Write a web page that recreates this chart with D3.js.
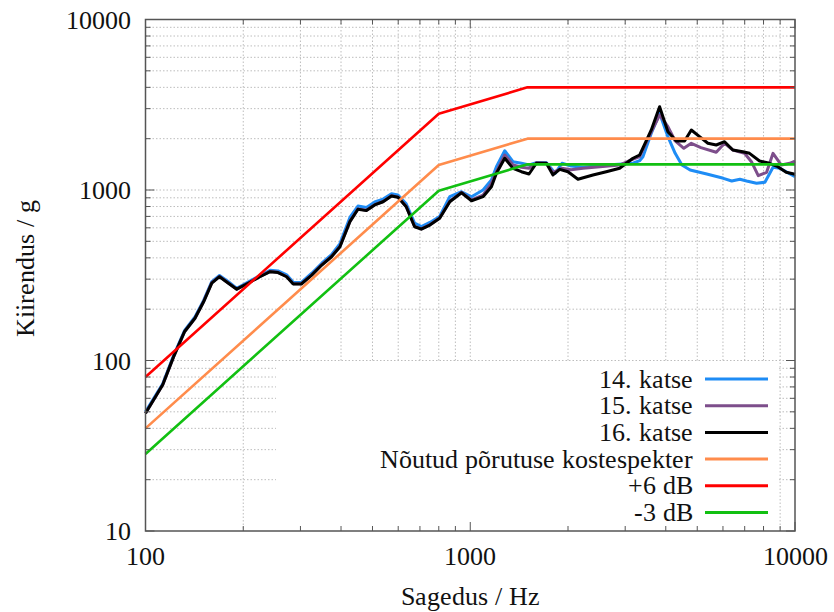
<!DOCTYPE html>
<html>
<head>
<meta charset="utf-8">
<script src="https://cdn.jsdelivr.net/npm/d3@7"></script>
<style>
  @font-face {
    font-family: "ChartSerif";
    src: local("Liberation Serif"), local("LiberationSerif"), local("LiberationSerif-Regular"), local("Times New Roman");
  }
</style>
</head>
<body style="margin:0">
<svg width="834" height="612"></svg>
<script>
// measured spectra: [frequency Hz, acceleration g]
const test14 = [
  [100, 50], [113, 73], [122, 107], [132, 150], [142, 180], [151, 225], [160, 290], [169, 315],
  [180, 290], [191, 265], [207, 288], [225, 315], [242, 338], [256, 335], [272, 318], [285, 288],
  [302, 287], [325, 325], [349, 372], [374, 418], [397, 485], [426, 690], [451, 805], [479, 790],
  [508, 850], [539, 885], [572, 950], [599, 935], [635, 830], [674, 640], [707, 610], [751, 645],
  [805, 700], [865, 913], [940, 977], [1009, 913], [1095, 1000], [1162, 1145], [1204, 1370],
  [1277, 1700], [1354, 1466], [1437, 1435], [1517, 1401], [1598, 1446], [1716, 1446], [1826, 1253],
  [1916, 1435], [2044, 1383], [2224, 1359], [2624, 1401], [2950, 1421], [3170, 1435], [3323, 1486],
  [3402, 1568], [3610, 2151], [3829, 2818], [4061, 2054], [4276, 1641], [4485, 1401], [4754, 1310],
  [5348, 1241], [6018, 1171], [6384, 1129], [6766, 1156], [7093, 1129], [7613, 1095], [8078, 1110],
  [8558, 1359], [8983, 1341], [10000, 1197]
];
const test15 = [
  [100, 49], [113, 72], [122, 105], [132, 148], [142, 177], [151, 222], [160, 286], [169, 311],
  [180, 285], [191, 262], [207, 285], [225, 311], [242, 333], [256, 329], [272, 311], [285, 282],
  [302, 282], [325, 318], [349, 365], [374, 408], [397, 468], [426, 655], [451, 775], [479, 760],
  [508, 820], [539, 856], [572, 925], [599, 910], [635, 802], [674, 612], [707, 592], [751, 626],
  [805, 685], [865, 860], [940, 968], [1009, 874], [1095, 934], [1162, 1095], [1204, 1280],
  [1277, 1604], [1354, 1401], [1437, 1359], [1517, 1341], [1598, 1446], [1716, 1435], [1798, 1264],
  [1910, 1341], [2044, 1315], [2224, 1341], [2884, 1401], [3130, 1500], [3323, 1568], [3610, 2190],
  [3829, 2754], [4061, 2351], [4276, 1939], [4547, 1756], [4794, 1879], [5132, 1771], [5721, 1664],
  [6069, 1879], [6437, 1716], [6993, 1641], [7343, 1466], [7707, 1213], [8177, 1270], [8558, 1641],
  [9077, 1401], [9631, 1434], [10000, 1479]
];
const test16 = [
  [100, 49], [113, 72], [122, 105], [132, 148], [142, 177], [151, 221], [160, 284], [169, 310],
  [180, 284], [191, 262], [207, 284], [225, 310], [242, 332], [256, 328], [272, 310], [285, 281],
  [302, 281], [325, 317], [349, 363], [374, 406], [397, 465], [426, 652], [451, 771], [479, 757],
  [508, 817], [539, 853], [572, 922], [599, 906], [635, 798], [674, 609], [707, 589], [751, 623],
  [805, 682], [865, 853], [940, 964], [1009, 865], [1095, 914], [1162, 1045], [1204, 1253],
  [1277, 1535], [1354, 1340], [1437, 1280], [1517, 1241], [1598, 1435], [1716, 1435], [1798, 1225],
  [1886, 1322], [2000, 1280], [2146, 1156], [2387, 1225], [2624, 1280], [2884, 1341], [3024, 1435],
  [3170, 1535], [3323, 1604], [3610, 2249], [3829, 3081], [4061, 2198], [4311, 1939], [4571, 1939],
  [4794, 2249], [5083, 2054], [5392, 1879], [5721, 1836], [6069, 1920], [6437, 1716], [6909, 1677],
  [7244, 1641], [7778, 1479], [8348, 1434], [8853, 1370], [9395, 1270], [10000, 1237]
];
// required shock response spectrum and tolerance bands
const required = [[100, 40], [800, 1400], [1500, 2000], [10000, 2000]];
const plus6 = [[100, 80], [800, 2800], [1500, 4000], [10000, 4000]];
const minus3 = [[100, 28.3], [800, 990], [1500, 1414], [10000, 1414]];

const seriesNames = ["14. katse", "15. katse", "16. katse", "Nõutud põrutuse kostespekter", "+6 dB", "-3 dB"];
const seriesData = [test14, test15, test16, required, plus6, minus3];
const seriesColors = ["#1e8cf5", "#7d4e8b", "#000000", "#ff8c4c", "#ff0000", "#12c012"];

const xTicks = [100, 1000, 10000];
const yTicks = [10, 100, 1000, 10000];

const svg = d3.select("svg");
const margin = { top: 19.5, right: 39, bottom: 81, left: 145.5 };
const width = +svg.attr("width");
const height = +svg.attr("height");
const innerWidth = width - margin.left - margin.right;
const innerHeight = height - margin.top - margin.bottom;
const fontSize = 26;

const xScale = d3.scaleLog().domain([100, 10000]).range([0, innerWidth]);
const yScale = d3.scaleLog().domain([10, 10000]).range([innerHeight, 0]);

// every text gets the serif face
const label = (sel) => sel
  .style("font-family", "ChartSerif, 'Liberation Serif'")
  .attr("font-size", fontSize)
  .attr("fill", "#111");

// every 1..9 subdivision of the decades
const logSteps = (lo, hi) => {
  const out = [];
  for (let p = lo; p < hi; p *= 10) for (let k = 1; k < 10; k++) out.push(p * k);
  out.push(hi);
  return out;
};
const xAll = logSteps(100, 10000);
const yAll = logSteps(10, 10000);
const isMajor = v => Math.abs(Math.log10(v) - Math.round(Math.log10(v))) < 1e-9;

const g = svg.append("g").attr("transform", `translate(${margin.left},${margin.top})`);

const grid = g.append("g")
  .attr("stroke", "#bdbdbd")
  .attr("stroke-width", 1)
  .attr("stroke-dasharray", "1.5,2");
grid.selectAll(".gx").data(xAll.slice(1, -1)).join("line")
  .attr("x1", d => xScale(d)).attr("x2", d => xScale(d))
  .attr("y1", 0).attr("y2", innerHeight);
grid.selectAll(".gy").data(yAll.slice(1, -1)).join("line")
  .attr("y1", d => yScale(d)).attr("y2", d => yScale(d))
  .attr("x1", 0).attr("x2", innerWidth);

// legend background hides the grid
g.append("rect")
  .attr("x", 276 - margin.left)
  .attr("y", 362 - margin.top)
  .attr("width", 778 - 276)
  .attr("height", innerHeight - (362 - margin.top))
  .attr("fill", "#fff");

const line = d3.line()
  .x(d => xScale(d[0]))
  .y(d => yScale(d[1]));

g.append("g").selectAll("path").data(seriesData).join("path")
  .attr("d", line)
  .attr("fill", "none")
  .attr("stroke", (d, i) => seriesColors[i])
  .attr("stroke-width", (d, i) => i < 3 ? 3 : 2.6)
  .attr("stroke-linejoin", "round");

// ticks on all four sides, pointing inward
const ticks = g.append("g").attr("stroke", "#555").attr("stroke-width", 1);
xAll.forEach(v => {
  const len = isMajor(v) ? 9 : 5;
  ticks.append("line").attr("x1", xScale(v)).attr("x2", xScale(v)).attr("y1", innerHeight).attr("y2", innerHeight - len);
  ticks.append("line").attr("x1", xScale(v)).attr("x2", xScale(v)).attr("y1", 0).attr("y2", len);
});
yAll.forEach(v => {
  const len = isMajor(v) ? 9 : 5;
  ticks.append("line").attr("y1", yScale(v)).attr("y2", yScale(v)).attr("x1", 0).attr("x2", len);
  ticks.append("line").attr("y1", yScale(v)).attr("y2", yScale(v)).attr("x1", innerWidth).attr("x2", innerWidth - len);
});

g.append("rect")
  .attr("width", innerWidth).attr("height", innerHeight)
  .attr("fill", "none").attr("stroke", "#555").attr("stroke-width", 1.5);

// tick labels and axis titles, placed in page coordinates
svg.selectAll(".xlab").data(xTicks).join("text")
  .attr("x", d => margin.left + xScale(d))
  .attr("y", margin.top + innerHeight + 34)
  .attr("text-anchor", "middle")
  .call(label)
  .text(d => d);
svg.selectAll(".ylab").data(yTicks).join("text")
  .attr("x", margin.left - 15)
  .attr("y", d => margin.top + yScale(d) + 9)
  .attr("text-anchor", "end")
  .call(label)
  .text(d => d);

svg.append("text")
  .attr("x", margin.left + innerWidth / 2)
  .attr("y", margin.top + innerHeight + 74)
  .attr("text-anchor", "middle")
  .call(label)
  .text("Sagedus / Hz");
svg.append("text")
  .attr("transform", "translate(34,268) rotate(-90)")
  .attr("text-anchor", "middle")
  .call(label)
  .text("Kiirendus / g");

// legend
svg.selectAll(".legtext").data(seriesNames).join("text")
  .attr("x", 693)
  .attr("y", (d, i) => 379 + i * 26.7 + 8.5)
  .attr("text-anchor", "end")
  .call(label)
  .text(d => d);
svg.selectAll(".legline").data(seriesNames).join("line")
  .attr("x1", 705).attr("x2", 768)
  .attr("y1", (d, i) => 379 + i * 26.7)
  .attr("y2", (d, i) => 379 + i * 26.7)
  .attr("stroke", (d, i) => seriesColors[i])
  .attr("stroke-width", 3);
</script>
</body>
</html>
